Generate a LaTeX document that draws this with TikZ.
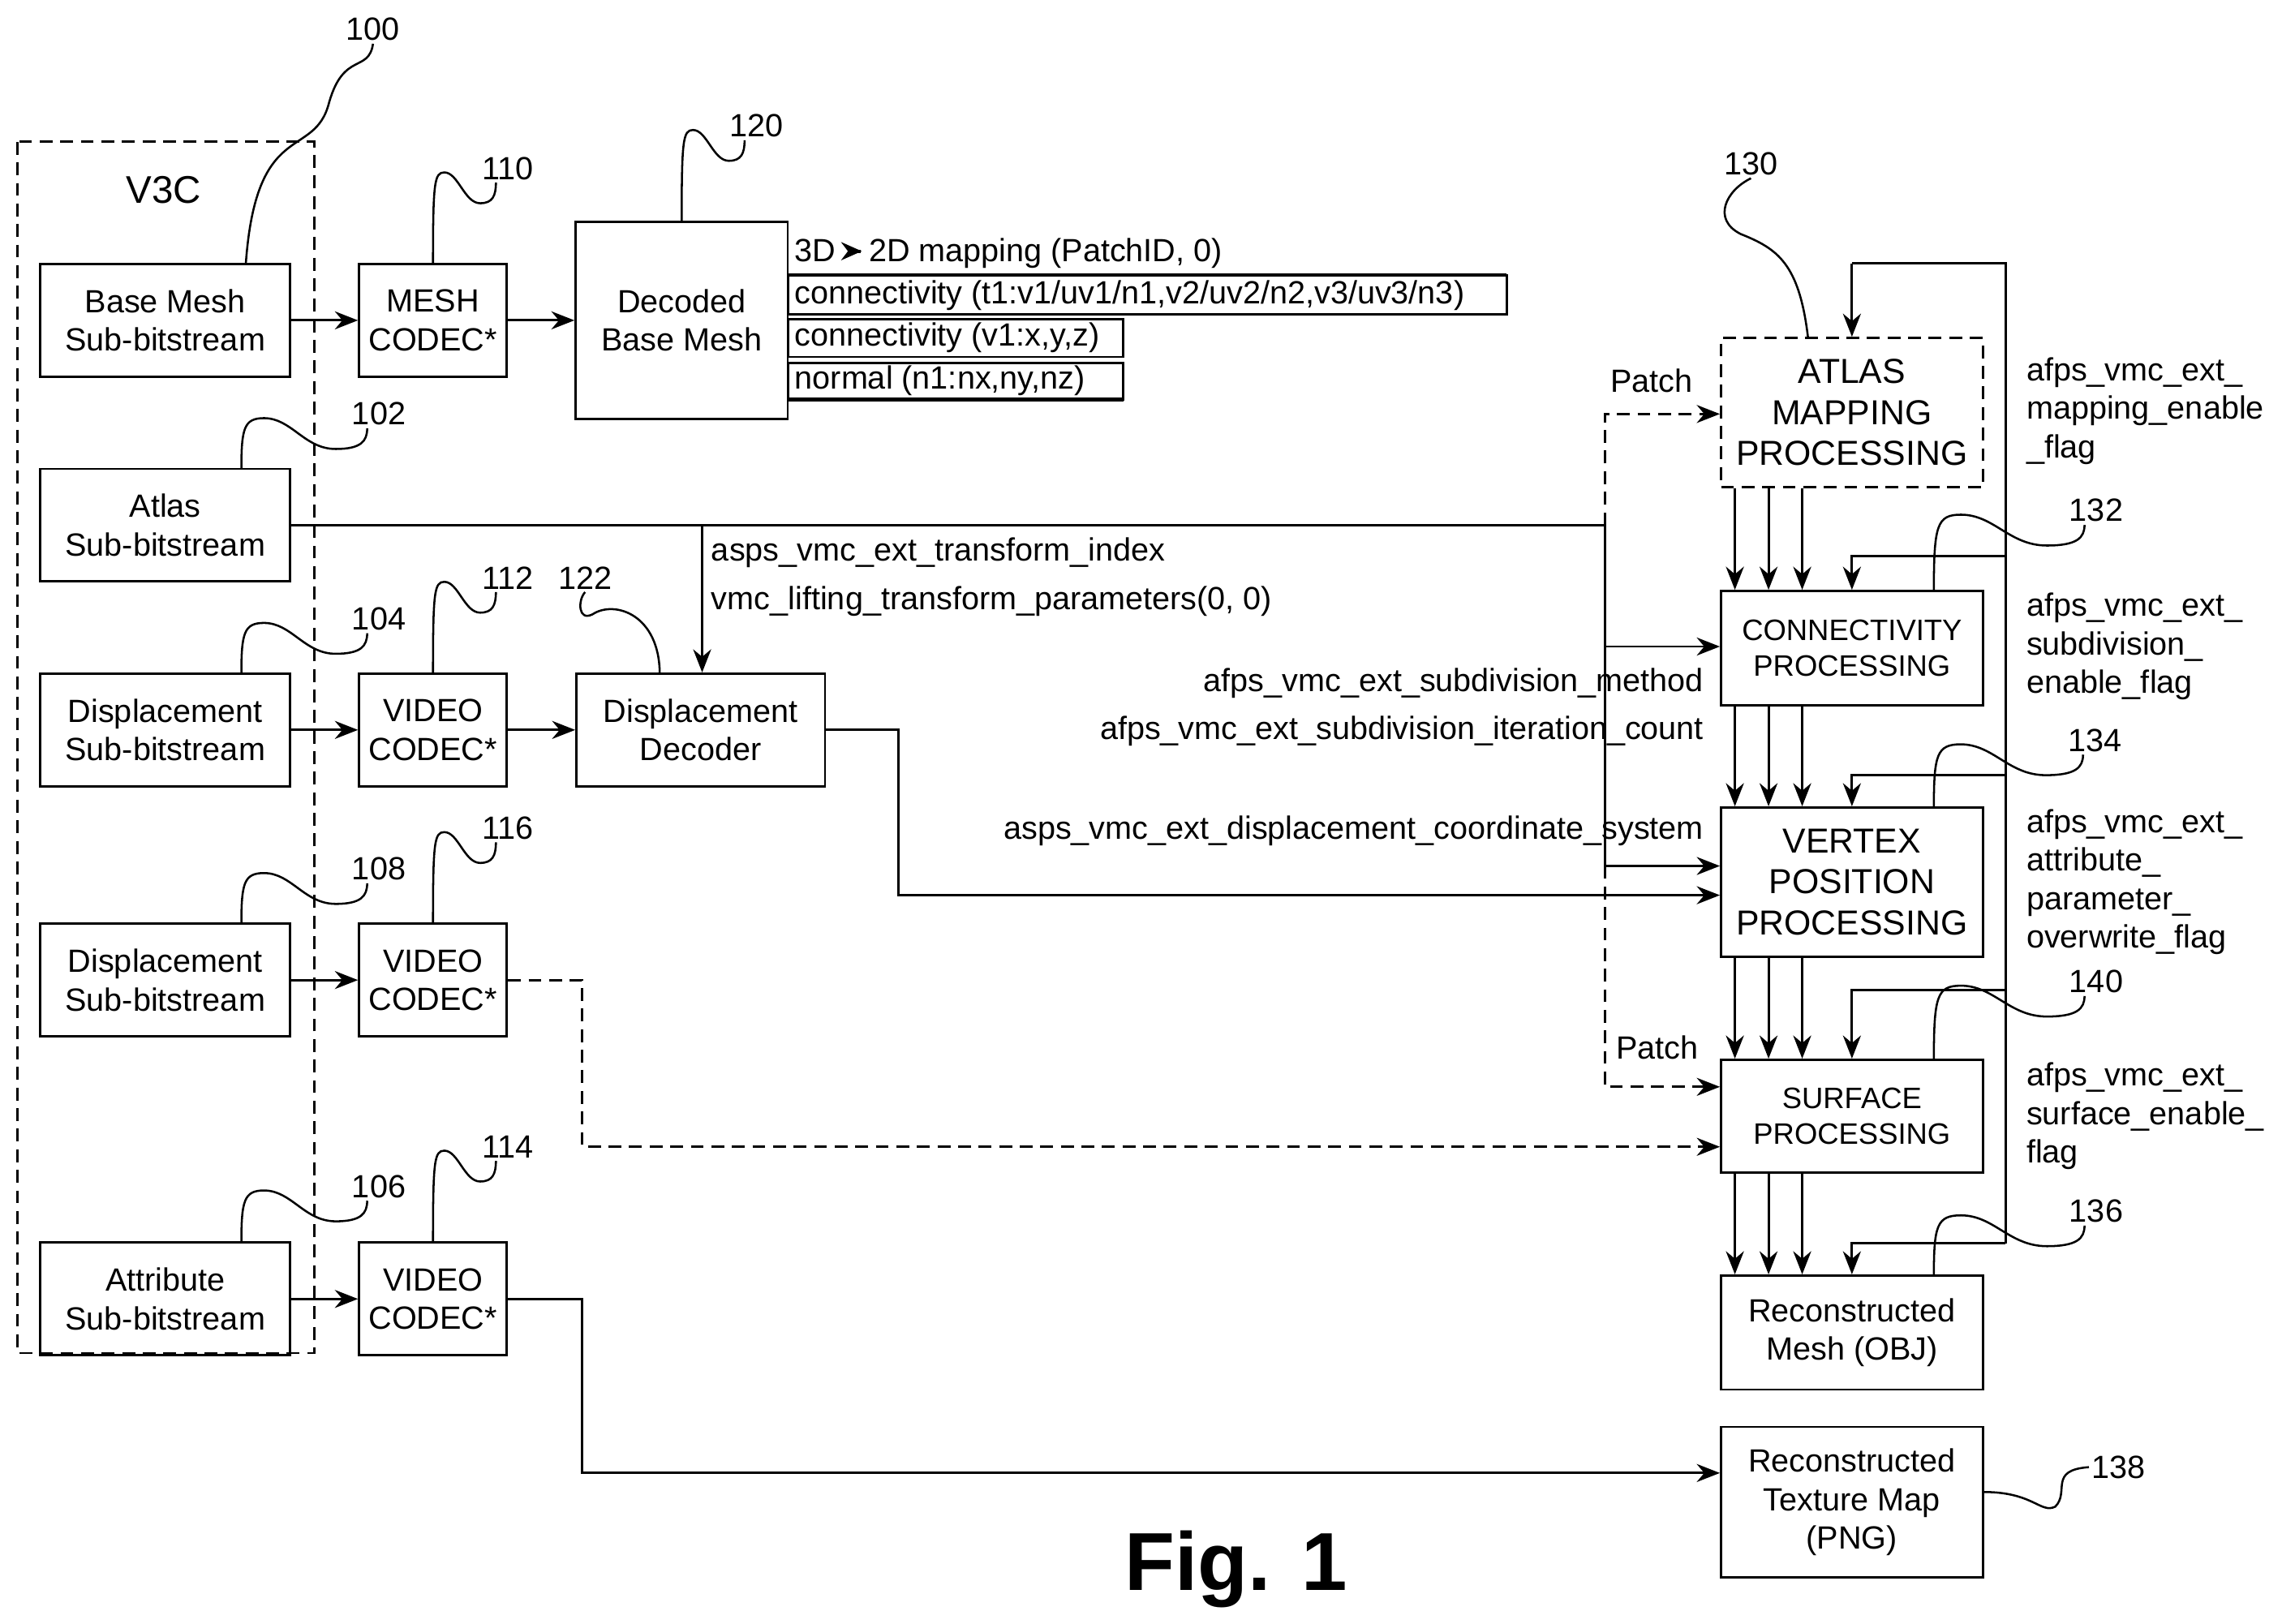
\documentclass[tikz,border=0pt]{standalone}
\usepackage{fontspec}
\setmainfont{Liberation Sans}
\usetikzlibrary{arrows.meta,positioning,calc}
\tikzset{
  box/.style={draw,line width=0.9pt,align=center,inner sep=1pt,font=\fontsize{12.5}{15}\selectfont},
  src/.style={box,minimum width=3.42cm,minimum height=1.54cm},
  codec/.style={box,minimum width=2.02cm,minimum height=1.54cm},
  proc/.style={box,minimum width=3.58cm},
  lbl/.style={font=\fontsize{12.5}{15}\selectfont,inner sep=0pt},
  flag/.style={lbl,anchor=west,align=left},
  refn/.style={font=\fontsize{12.5}{15}\selectfont,inner sep=1pt},
  wire/.style={line width=0.9pt},
  arr/.style={wire,-{Stealth[length=9pt,width=7pt]}},
  darr/.style={arr,dashed,dash pattern=on 5pt off 3pt},
  sq/.style={line width=0.8pt}
}
\newcommand{\squig}[2]{% box point, number node
  \draw[sq] let \p1=(#1), \p2=($(#2.south)+(-8,0)$), \n1={\x2-\x1} in
    (\p1) .. controls (\x1,\y2) and ({\x1+0.02*\n1},{\y2+4pt}) .. ({\x1+0.18*\n1},{\y2+4pt})
    .. controls ({\x1+0.4*\n1},{\y2+4pt}) and ({\x1+0.5*\n1},{\y2-8pt}) .. ({\x1+0.75*\n1},{\y2-8pt})
    .. controls ({\x1+0.95*\n1},{\y2-8pt}) and (\x2,{\y2-5pt}) .. (\p2);}
\begin{document}
\begin{tikzpicture}[x=0.02cm,y=-0.02cm]
\useasboundingbox (0,0) rectangle (1560,1110);
% V3C container
\draw[wire,dashed,dash pattern=on 5pt off 3pt] (12,97) rectangle (215,925);
\node[lbl,font=\fontsize{15}{18}\selectfont] (v3c) at (112,130) {V3C};
% sources
\node[src] (base) at (113,219) {Base Mesh\\Sub-bitstream};
\node[src] (atlas) at (113,359) {Atlas\\Sub-bitstream};
\node[src] (disp1) at (113,499) {Displacement\\Sub-bitstream};
\node[src] (disp2) at (113,670) {Displacement\\Sub-bitstream};
\node[src] (attr) at (113,888) {Attribute\\Sub-bitstream};
% codecs
\node[codec] (mesh) at (296,219) {MESH\\CODEC*};
\node[codec] (vid1) at (296,499) {VIDEO\\CODEC*};
\node[codec] (vid2) at (296,670) {VIDEO\\CODEC*};
\node[codec] (vid3) at (296,888) {VIDEO\\CODEC*};
\node[box,minimum width=2.9cm,minimum height=2.7cm] (dbm) at (466,219) {Decoded\\Base Mesh};
\node[box,minimum width=3.4cm,minimum height=1.54cm] (ddec) at (479,499) {Displacement\\Decoder};
% right column
\node[proc,dashed,dash pattern=on 5pt off 3pt,minimum height=2.04cm,font=\fontsize{13.5}{16}\selectfont] (amp) at (1266,282) {ATLAS\\MAPPING\\PROCESSING};
\node[proc,minimum height=1.56cm,font=\fontsize{11.5}{14}\selectfont] (conn) at (1266,443) {CONNECTIVITY\\PROCESSING};
\node[proc,minimum height=2.04cm,font=\fontsize{13.5}{16}\selectfont] (vert) at (1266,603) {VERTEX\\POSITION\\PROCESSING};
\node[proc,minimum height=1.54cm,font=\fontsize{11.5}{14}\selectfont] (surf) at (1266,763) {SURFACE\\PROCESSING};
\node[proc,minimum height=1.56cm] (rmesh) at (1266,911) {Reconstructed\\Mesh (OBJ)};
\node[proc,minimum height=2.06cm] (rtex) at (1266,1027) {Reconstructed\\Texture Map\\(PNG)};
% mesh attribute table
\node[lbl,anchor=west] (map) at (543,173) {3D\,{\tikz[baseline=-0.6ex]\draw[line width=1.3pt,-{Stealth[length=8pt,width=7pt]}] (0,0)--(0.6,0);}\,2D mapping (PatchID, 0)};
\draw[wire] (539,188) rectangle (1030,215);
\draw[line width=1.5pt] (539,188) -- (1030,188);
\node[lbl,anchor=west] (row1) at (543,202) {connectivity (t1:v1/uv1/n1,v2/uv2/n2,v3/uv3/n3)};
\draw[wire] (539,218) rectangle (768,244);
\node[lbl,anchor=west] (row2) at (543,231) {connectivity (v1:x,y,z)};
\draw[wire] (539,248) rectangle (768,273);
\draw[line width=1.5pt] (539,273) -- (768,273);
\node[lbl,anchor=west] (row3) at (543,260) {normal (n1:nx,ny,nz)};
% left chain
\draw[arr] (base) -- (mesh);
\draw[arr] (mesh) -- (dbm);
\draw[arr] (disp1) -- (vid1);
\draw[arr] (vid1) -- (ddec);
\draw[arr] (disp2) -- (vid2);
\draw[arr] (attr) -- (vid3);
% atlas signalling
\coordinate (aj) at (1097,359);
\draw[wire] (atlas.east) -- (aj);
\draw[arr] (480,359) -- (ddec.north -| 480,0);
\node[lbl,anchor=west] (t1) at (486,378) {asps\_vmc\_ext\_transform\_index};
\node[lbl,anchor=west] (t2) at (486,411) {vmc\_lifting\_transform\_parameters(0, 0)};
\draw[wire] (aj) -- (1097,592);
\draw[arr] (1097,442) -- (1097,442 -| conn.west);
\draw[arr] (1097,592) -- (1097,592 -| vert.west);
\draw[darr] (1097,359) -- (1097,283) -- (1097,283 -| amp.west);
\draw[darr] (1097,592) -- (1097,743) -- (1097,743 -| surf.west);
\node[lbl] (p1) at (1129,260) {Patch};
\node[lbl] (p2) at (1133,716) {Patch};
\node[lbl,anchor=east] (s1) at (1165,467) {afps\_vmc\_ext\_subdivision\_method};
\node[lbl,anchor=east] (s2) at (1165,500) {afps\_vmc\_ext\_subdivision\_iteration\_count};
\node[lbl,anchor=east] (s3) at (1165,568) {asps\_vmc\_ext\_displacement\_coordinate\_system};
% data paths
\draw[arr] (ddec.east) -- (614,499) -- (614,612) -- (614,612 -| vert.west);
\draw[darr] (vid2.east) -- (398,670) -- (398,784) -- (398,784 -| surf.west);
\draw[arr] (vid3.east) -- (398,888) -- (398,1007) -- (398,1007 -| rtex.west);
% vertical stack
\foreach \x in {1186,1209,1232}{
  \draw[arr] (\x,0 |- amp.south) -- (\x,0 |- conn.north);
  \draw[arr] (\x,0 |- conn.south) -- (\x,0 |- vert.north);
  \draw[arr] (\x,0 |- vert.south) -- (\x,0 |- surf.north);
  \draw[arr] (\x,0 |- surf.south) -- (\x,0 |- rmesh.north);
}
% enable flags
\draw[wire] (1371,850) -- (1371,180) -- (1266,180);
\draw[arr] (1266,180) -- (amp.north);
\draw[arr] (1371,380) -- (1266,380) -- (conn.north);
\draw[arr] (1371,530) -- (1266,530) -- (vert.north);
\draw[arr] (1371,677) -- (1266,677) -- (surf.north);
\draw[arr] (1371,850) -- (1266,850) -- (rmesh.north);
\node[flag] (f1) at (1385,281) {afps\_vmc\_ext\_\\mapping\_enable\\\_flag};
\node[flag] (f2) at (1385,442) {afps\_vmc\_ext\_\\subdivision\_\\enable\_flag};
\node[flag] (f3) at (1385,603) {afps\_vmc\_ext\_\\attribute\_\\parameter\_\\overwrite\_flag};
\node[flag] (f4) at (1385,763) {afps\_vmc\_ext\_\\surface\_enable\_\\flag};
% reference numerals
\node[refn] (n100) at (255,20) {100};
\node[refn] (n110) at (347,115) {110};
\node[refn] (n120) at (517,86) {120};
\node[refn] (n130) at (1197,112) {130};
\node[refn] (n102) at (259,283) {102};
\node[refn] (n104) at (259,423) {104};
\node[refn] (n112) at (347,395) {112};
\node[refn] (n122) at (400,395) {122};
\node[refn] (n108) at (259,594) {108};
\node[refn] (n116) at (347,566) {116};
\node[refn] (n106) at (259,811) {106};
\node[refn] (n114) at (347,784) {114};
\node[refn] (n132) at (1433,349) {132};
\node[refn] (n134) at (1432,506) {134};
\node[refn] (n140) at (1433,671) {140};
\node[refn] (n136) at (1433,828) {136};
\node[refn,anchor=west] (n138) at (1428,1003) {138};
\draw[sq] (168,181) .. controls (175,80) and (215,110) .. (225,70) .. controls (235,35) and (252,50) .. (n100.south);
\squig{296,181}{n110}
\squig{466,152}{n120}
\draw[sq] (1236,231) .. controls (1230,180) and (1215,170) .. (1190,160) .. controls (1170,150) and (1180,130) .. (n130.south);
\squig{165,321}{n102}
\squig{165,461}{n104}
\squig{296,461}{n112}
\draw[sq] (451,461) .. controls (451,420) and (420,410) .. (405,420) .. controls (395,425) and (395,410) .. (n122.south);
\squig{165,632}{n108}
\squig{296,632}{n116}
\squig{165,850}{n106}
\squig{296,850}{n114}
\squig{1322,404}{n132}
\squig{1322,552}{n134}
\squig{1322,725}{n140}
\squig{1322,872}{n136}
\draw[sq] (rtex.east |- 0,1020) .. controls (1390,1020) and (1395,1035) .. (1405,1030) .. controls (1415,1020) and (1400,1005) .. (n138.west);
% caption
\node[font=\bfseries\fontsize{32}{36}\selectfont] (fig) at (845,1073) {Fig. 1};
\end{tikzpicture}
\end{document}
